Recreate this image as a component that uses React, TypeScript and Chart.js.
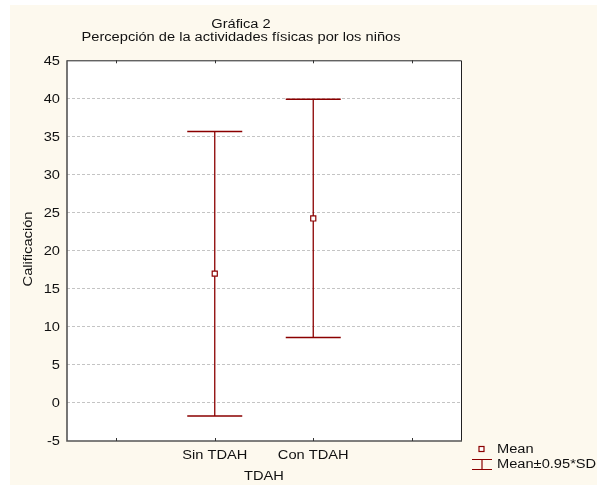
import React, { useEffect, useRef } from 'react';
import { Chart, registerables } from 'chart.js';

Chart.register(...registerables);

// ---- data ----
const categories = ['', 'Sin TDAH', 'Con TDAH', ''];
const means: (number | null)[] = [null, 16.98, 24.23, null];
const upper: (number | null)[] = [null, 35.66, 39.87, null];
const lower: (number | null)[] = [null, -1.71, 8.59, null];
const yTicks = [-5, 0, 5, 10, 15, 20, 25, 30, 35, 40, 45];
const titleLines = ['Gráfica 2', 'Percepción de la actividades físicas por los niños'];
const xTitle = 'TDAH';
const yTitle = 'Calificación';
const legendLabels = ['Mean', 'Mean±0.95*SD'];

const RED = '#8B0000';
const FONT = '12px "Liberation Sans", Arial, sans-serif';
const SX = 1.22;

function txt(ctx: CanvasRenderingContext2D, s: string, x: number, y: number, align: CanvasTextAlign, rot = 0) {
  ctx.save();
  ctx.translate(x, y);
  if (rot) ctx.rotate(rot);
  ctx.scale(SX, 1);
  ctx.font = FONT;
  ctx.fillStyle = '#111';
  ctx.textAlign = align;
  ctx.textBaseline = 'alphabetic';
  ctx.fillText(s, 0, 0);
  ctx.restore();
}

const decor = {
  id: 'decor',
  beforeDraw(chart: any) {
    const ctx = chart.ctx as CanvasRenderingContext2D;
    const { left, top, right, bottom } = chart.chartArea;
    ctx.save();
    ctx.fillStyle = '#ffffff';
    ctx.fillRect(0, 0, chart.width, chart.height);
    ctx.fillStyle = '#FDF9EE';
    ctx.fillRect(10, 5, chart.width - 10, chart.height - 5);
    ctx.fillStyle = '#ffffff';
    ctx.fillRect(left, top, right - left, bottom - top);
    ctx.restore();
  },
  beforeDatasetsDraw(chart: any) {
    const ctx = chart.ctx as CanvasRenderingContext2D;
    const xs = chart.scales.x;
    const ys = chart.scales.y;
    ctx.save();
    ctx.strokeStyle = RED;
    for (let i = 0; i < categories.length; i++) {
      const u = upper[i];
      const l = lower[i];
      if (u == null || l == null) continue;
      const x = xs.getPixelForValue(i);
      const yu = ys.getPixelForValue(u);
      const yl = ys.getPixelForValue(l);
      ctx.lineWidth = 1.3;
      ctx.beginPath();
      ctx.moveTo(x, yu);
      ctx.lineTo(x, yl);
      ctx.stroke();
      ctx.lineWidth = 1.5;
      ctx.beginPath();
      ctx.moveTo(x - 27.5, yu);
      ctx.lineTo(x + 27.5, yu);
      ctx.moveTo(x - 27.5, yl);
      ctx.lineTo(x + 27.5, yl);
      ctx.stroke();
    }
    ctx.restore();
  },
  afterDraw(chart: any) {
    const ctx = chart.ctx as CanvasRenderingContext2D;
    const { left, top, right, bottom } = chart.chartArea;
    const xs = chart.scales.x;
    const ys = chart.scales.y;
    ctx.save();
    // border
    ctx.strokeStyle = '#222';
    ctx.lineWidth = 1;
    ctx.beginPath();
    ctx.moveTo(left, top + 0.5);
    ctx.lineTo(right + 0.5, top + 0.5);
    ctx.lineTo(right + 0.5, bottom);
    ctx.stroke();
    ctx.strokeStyle = '#555';
    ctx.lineWidth = 1.6;
    ctx.beginPath();
    ctx.moveTo(left, top);
    ctx.lineTo(left, bottom);
    ctx.lineTo(right + 1, bottom);
    ctx.stroke();
    // x ticks (inward, top and bottom)
    ctx.strokeStyle = '#333';
    ctx.lineWidth = 1;
    for (let i = 0; i < categories.length; i++) {
      const x = Math.round(xs.getPixelForValue(i)) + 0.5;
      ctx.beginPath();
      ctx.moveTo(x, bottom);
      ctx.lineTo(x, bottom - 3);
      ctx.moveTo(x, top);
      ctx.lineTo(x, top + 3);
      ctx.stroke();
      if (categories[i]) txt(ctx, categories[i], xs.getPixelForValue(i), 459, 'center');
    }
    // y tick labels
    for (const v of yTicks) {
      txt(ctx, String(v), 60, ys.getPixelForValue(v) + 4.3, 'right');
    }
    // titles
    txt(ctx, titleLines[0], 241, 28, 'center');
    txt(ctx, titleLines[1], 241, 41, 'center');
    txt(ctx, xTitle, (left + right) / 2, 480, 'center');
    txt(ctx, yTitle, 32, 249, 'center', -Math.PI / 2);
    // legend
    ctx.strokeStyle = RED;
    ctx.fillStyle = '#fff';
    ctx.lineWidth = 1.2;
    ctx.fillRect(479, 446.5, 5, 5);
    ctx.strokeRect(479, 446.5, 5, 5);
    txt(ctx, legendLabels[0], 497, 453, 'left');
    ctx.lineWidth = 1.2;
    ctx.beginPath();
    ctx.moveTo(472, 459.5);
    ctx.lineTo(492, 459.5);
    ctx.moveTo(482, 459.5);
    ctx.lineTo(482, 469.5);
    ctx.moveTo(472, 469.5);
    ctx.lineTo(492, 469.5);
    ctx.stroke();
    txt(ctx, legendLabels[1], 497, 467.5, 'left');
    ctx.restore();
  },
};

export default function App() {
  const ref = useRef<HTMLCanvasElement>(null);
  useEffect(() => {
    if (!ref.current) return;
    const chart = new Chart(ref.current, {
      type: 'line',
      data: {
        labels: categories,
        datasets: [
          {
            data: means as any,
            showLine: false,
            pointStyle: 'rect',
            pointRadius: 3.6,
            pointBorderWidth: 1.2,
            pointBorderColor: RED,
            pointBackgroundColor: '#ffffff',
            borderColor: RED,
          },
        ],
      },
      options: {
        responsive: false,
        animation: false,
        events: [],
        layout: { padding: { left: 0, top: 60.3, right: 136, bottom: 0 } },
        plugins: { legend: { display: false }, tooltip: { enabled: false }, title: { display: false } },
        scales: {
          x: {
            type: 'category',
            offset: true,
            grid: { display: false, drawTicks: false },
            border: { display: false },
            ticks: { display: false },
            afterFit: (s: any) => {
              s.height = 44;
            },
          },
          y: {
            min: -5,
            max: 45,
            ticks: { display: false, stepSize: 5 },
            border: { display: false, dash: [3, 2] },
            grid: {
              drawTicks: false,
              lineWidth: 1,
              color: (c: any) => (c.tick && (c.tick.value === -5 || c.tick.value === 45) ? 'rgba(0,0,0,0)' : '#c4c4c4'),
            },
            afterFit: (s: any) => {
              s.width = 67;
            },
          },
        },
      },
      plugins: [decor],
    });
    return () => chart.destroy();
  }, []);
  return (
    <div style={{ position: 'fixed', left: 0, top: 0, width: 597, height: 485 }}>
      <canvas ref={ref} width={597} height={485} style={{ display: 'block' }} />
    </div>
  );
}
